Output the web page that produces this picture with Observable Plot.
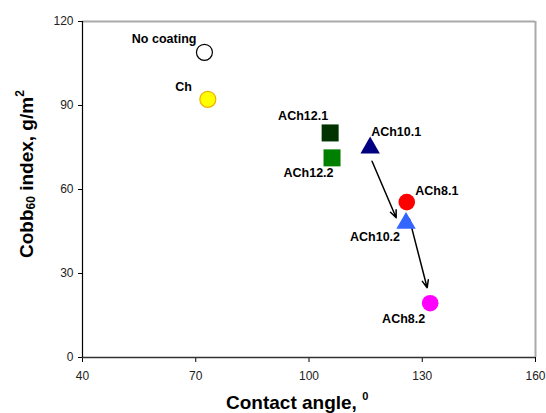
<!DOCTYPE html>
<html>
<head>
<meta charset="utf-8">
<script src="https://cdn.jsdelivr.net/npm/d3@7"></script>
<script src="https://cdn.jsdelivr.net/npm/@observablehq/plot@0.6"></script>
<style>
  html, body { margin: 0; padding: 0; background: #fff; }
  #chart { width: 546px; height: 413px; }
  svg { font-family: "Liberation Sans", Arial, sans-serif; }
</style>
</head>
<body>
<div id="chart"></div>
<script>
// ---- data ----
const names = ["No coating", "Ch", "ACh12.1", "ACh12.2", "ACh10.1", "ACh10.2", "ACh8.1", "ACh8.2"];
const contactAngle = [72.3, 73.2, 105.6, 106.1, 116.2, 125.7, 125.9, 132.1];
const cobb60 = [109, 92.2, 80.2, 71.3, 74.9, 48.0, 55.5, 19.4];

// arrows (start/end in data units)
const arrowX1 = [116.7, 126.6];
const arrowY1 = [70.1, 49.5];
const arrowX2 = [123.1, 131.3];
const arrowY2 = [49.9, 24.9];

const xTicks = [40, 70, 100, 130, 160];
const yTicks = [0, 30, 60, 90, 120];

// ---- styles ----
const style = {
  "No coating": {symbol: "circle", fill: "#ffffff", stroke: "#000000", r: 8, anchor: "end", dx: -8, dy: -13},
  "Ch":         {symbol: "circle", fill: "#ffff00", stroke: "#f0b000", r: 8, anchor: "end", dx: -16, dy: -12},
  "ACh12.1":    {symbol: "square", fill: "#003300", stroke: "none", r: 9.6, anchor: "end", dx: -2, dy: -16.5},
  "ACh12.2":    {symbol: "square", fill: "#008000", stroke: "none", r: 9.6, anchor: "end", dx: 1.5, dy: 15},
  "ACh10.1":    {symbol: "triangle", fill: "#000080", stroke: "none", r: 7.2, anchor: "start", dx: 1, dy: -15.5},
  "ACh10.2":    {symbol: "triangle", fill: "#3366ff", stroke: "none", r: 7.2, anchor: "end", dx: -6, dy: 14},
  "ACh8.1":     {symbol: "circle", fill: "#ff0000", stroke: "none", r: 8.3, anchor: "start", dx: 8.5, dy: -11},
  "ACh8.2":     {symbol: "circle", fill: "#ff00ff", stroke: "none", r: 8.3, anchor: "end", dx: -5, dy: 15.5}
};

const points = names.map((n, i) => ({name: n, x: contactAngle[i], y: cobb60[i]}));
const arrows = arrowX1.map((_, i) => ({x1: arrowX1[i], y1: arrowY1[i], x2: arrowX2[i], y2: arrowY2[i]}));

const pointMarks = points.flatMap(p => {
  const s = style[p.name];
  return [
    Plot.dot([p], {x: "x", y: "y", symbol: () => s.symbol, r: s.r, fill: s.fill, stroke: s.stroke, strokeWidth: 1.2}),
    Plot.text([p], {x: "x", y: "y", text: "name", textAnchor: s.anchor, dx: s.dx, dy: s.dy,
      fontWeight: "bold", fontSize: 12.5, fill: "#000"})
  ];
});

const chart = Plot.plot({
  width: 546,
  height: 413,
  marginLeft: 82,
  marginRight: 11,
  marginTop: 21,
  marginBottom: 56,
  style: {fontFamily: "Liberation Sans, Arial, sans-serif", fontSize: "12px", background: "#fff", color: "#000"},
  x: {domain: [40, 160], label: null},
  y: {domain: [0, 120], label: null},
  symbol: {type: "identity"},
  marks: [
    Plot.ruleY([120], {stroke: "#aaaaaa", strokeWidth: 2}),
    Plot.ruleX([160], {stroke: "#aaaaaa", strokeWidth: 2}),
    Plot.axisX({ticks: xTicks, tickSize: 5, tickPadding: 9, tickFormat: d => String(d), fontSize: 12, fill: "#222", label: null}),
    Plot.axisY({ticks: yTicks, tickSize: 4, tickPadding: 5, tickFormat: d => String(d), fontSize: 12, fill: "#222", label: null}),
    Plot.ruleY([0], {stroke: "#333", strokeWidth: 1.5}),
    Plot.ruleX([40], {stroke: "#000", strokeWidth: 1.2}),
    Plot.arrow(arrows, {x1: "x1", y1: "y1", x2: "x2", y2: "y2", stroke: "#000", strokeWidth: 1.5, headLength: 8, headAngle: 45}),
    ...pointMarks
  ]
});

document.getElementById("chart").appendChild(chart);

// axis titles with sub/superscripts
const svg = d3.select(chart);
const xt = svg.append("text")
  .attr("x", 226).attr("y", 409)
  .attr("text-anchor", "start")
  .attr("font-weight", "bold").attr("font-size", 19).attr("fill", "#000")
  .attr("font-family", "Liberation Sans, Arial, sans-serif");
xt.append("tspan").text("Contact angle, ");
xt.append("tspan").text("0").attr("font-size", 11).attr("dy", -9);

const yt = svg.append("text")
  .attr("transform", "translate(33,258) rotate(-90)")
  .attr("text-anchor", "start")
  .attr("font-weight", "bold").attr("font-size", 19).attr("fill", "#000")
  .attr("font-family", "Liberation Sans, Arial, sans-serif");
yt.append("tspan").text("Cobb");
yt.append("tspan").text("60").attr("font-size", 12).attr("dy", 2);
yt.append("tspan").text(" index, g/m").attr("dy", -2);
yt.append("tspan").text("2").attr("font-size", 12).attr("dy", -9);
</script>
</body>
</html>
